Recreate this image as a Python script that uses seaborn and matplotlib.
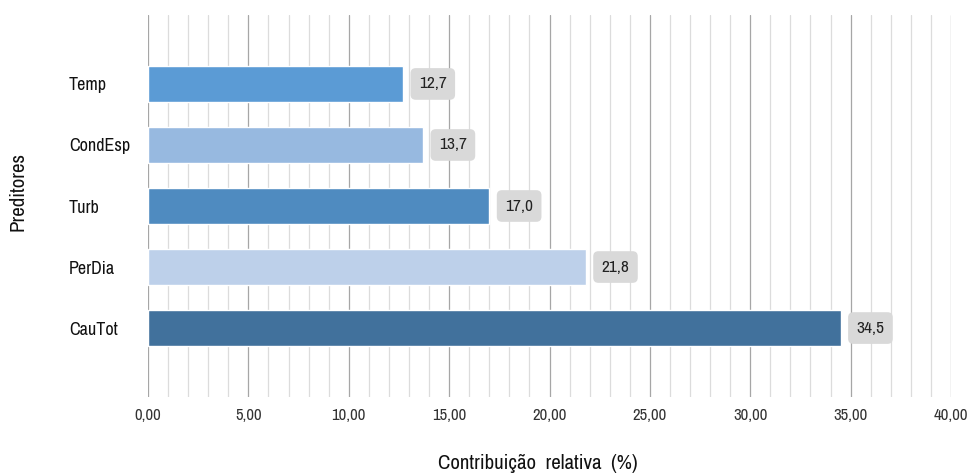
import matplotlib
matplotlib.use("Agg")
import matplotlib.pyplot as plt
import matplotlib.font_manager as fm
from matplotlib.ticker import MultipleLocator, FuncFormatter
import seaborn as sns
import pandas as pd

preditores = ["Temp", "CondEsp", "Turb", "PerDia", "CauTot"]
contribuicao = [12.7, 13.7, 17.0, 21.8, 34.5]
cores = ["#5B9BD5", "#97B9E0", "#4F8BC0", "#BDD0EA", "#41719C"]

sns.set_theme(style="white")
installed = {f.name for f in fm.fontManager.ttflist}
narrow = [n for n in ["Arial Narrow", "Liberation Sans Narrow", "Archivo Narrow",
                      "Roboto Condensed", "Asap Condensed"] if n in installed][:1]
plt.rcParams["font.family"] = narrow + ["Liberation Sans", "DejaVu Sans"]

df = pd.DataFrame({"Preditor": preditores, "Contrib": contribuicao})

fig = plt.figure(figsize=(9.72, 4.75), dpi=100)
ax = fig.add_axes([148 / 972, 1 - 397 / 475, (951 - 148) / 972, (397 - 15) / 475])

sns.barplot(data=df, x="Contrib", y="Preditor", hue="Preditor", palette=cores,
            order=preditores, hue_order=preditores, orient="h", width=0.59,
            legend=False, ax=ax, saturation=1)

ax.set_xlim(0, 40)
ax.set_ylim(len(preditores) - 1 + 1.13, -1.13)

ax.xaxis.set_major_locator(MultipleLocator(5))
ax.xaxis.set_minor_locator(MultipleLocator(1))
ax.xaxis.set_major_formatter(FuncFormatter(lambda v, p: f"{v:.2f}".replace(".", ",")))
ax.grid(which="major", axis="x", color="#A6A6A6", lw=0.9)
ax.grid(which="minor", axis="x", color="#DCDCDC", lw=0.9)
ax.set_axisbelow(True)
for s in ax.spines.values():
    s.set_visible(False)

ax.tick_params(axis="x", which="both", length=0, pad=8, labelsize=12, colors="#333333")
ax.tick_params(axis="y", length=0, pad=57, labelsize=13, colors="#111111")
for lab in ax.get_yticklabels():
    lab.set_horizontalalignment("left")

for i, v in enumerate(contribuicao):
    ax.annotate(f"{v:.1f}".replace(".", ","), xy=(v, i), xytext=(21.5, 0),
                textcoords="offset points", ha="center", va="center",
                fontsize=12.5, color="#222222",
                bbox=dict(boxstyle="round,pad=0.48,rounding_size=0.3",
                          fc="#D9D9D9", ec="none"))

ax.set_xlabel("Contribuição  relativa  (%)", fontsize=15, color="#111111")
ax.set_ylabel("Preditores", fontsize=15, color="#111111")
ax.xaxis.set_label_coords(0.485, -0.173)
ax.xaxis.label.set_va("center")
ax.yaxis.set_label_coords(-0.162, 0.537)
ax.yaxis.label.set_va("center")

fig.savefig("out.png", dpi=100)
